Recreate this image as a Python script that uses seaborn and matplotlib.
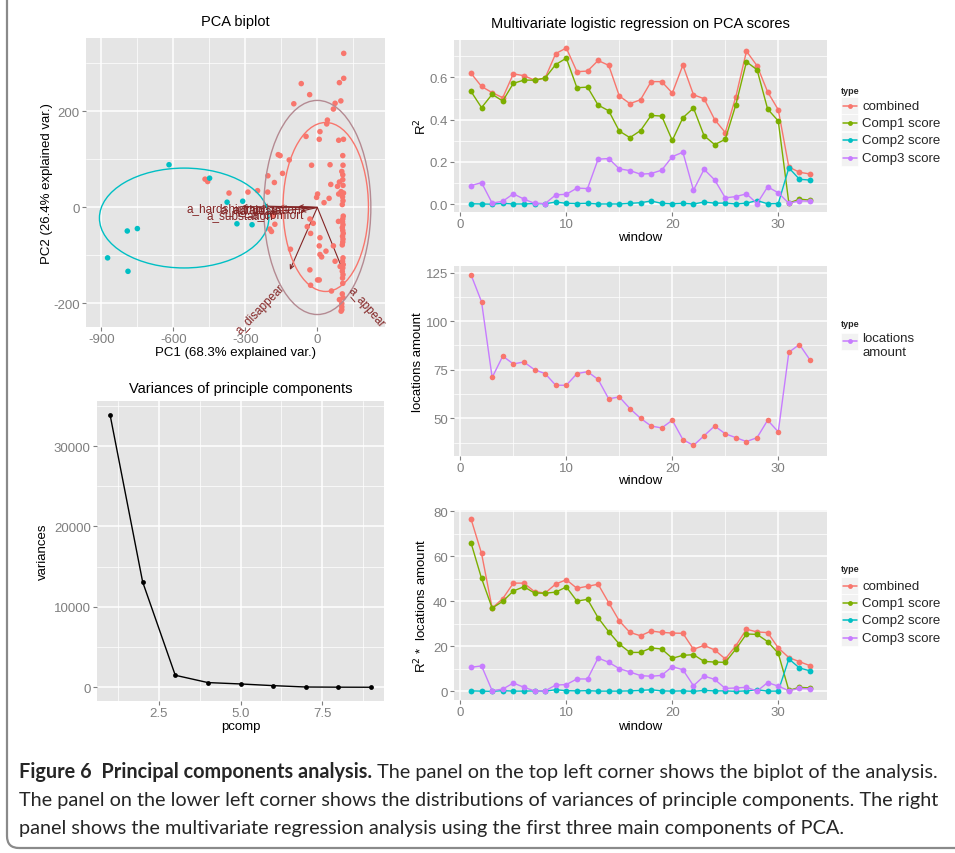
import numpy as np
import pandas as pd
import matplotlib
matplotlib.use('Agg')
import matplotlib.pyplot as plt
import seaborn as sns
from matplotlib.patches import Ellipse, Rectangle, FancyBboxPatch
from matplotlib.lines import Line2D
from matplotlib.transforms import IdentityTransform
from matplotlib import font_manager

# ---------------- data ----------------
windows = list(range(1, 34))
types = ['combined', 'Comp1 score', 'Comp2 score', 'Comp3 score']
combined_r2 = [0.620, 0.557, 0.528, 0.504, 0.617, 0.608, 0.587, 0.597, 0.713, 0.739, 0.627, 0.630, 0.680, 0.657,
               0.512, 0.476, 0.494, 0.580, 0.580, 0.526, 0.658, 0.518, 0.499, 0.400, 0.339, 0.509, 0.724, 0.655,
               0.531, 0.447, 0.176, 0.151, 0.143]
comp1_r2 = [0.534, 0.457, 0.520, 0.488, 0.572, 0.587, 0.587, 0.597, 0.661, 0.691, 0.551, 0.554, 0.469, 0.442,
            0.346, 0.315, 0.348, 0.420, 0.417, 0.302, 0.409, 0.455, 0.324, 0.282, 0.307, 0.471, 0.674, 0.636,
            0.450, 0.394, 0.005, 0.024, 0.019]
comp2_r2 = [0.002, 0.001, 0.000, 0.004, 0.001, 0.001, 0.003, 0.002, 0.010, 0.004, 0.003, 0.004, 0.001, 0.001,
            0.001, 0.004, 0.007, 0.015, 0.004, 0.002, 0.004, 0.001, 0.010, 0.005, 0.005, 0.001, 0.005, 0.017,
            0.002, 0.003, 0.172, 0.118, 0.114]
comp3_r2 = [0.088, 0.102, 0.005, 0.014, 0.049, 0.024, 0.004, 0.003, 0.044, 0.047, 0.076, 0.074, 0.213, 0.216,
            0.167, 0.159, 0.142, 0.145, 0.161, 0.225, 0.246, 0.066, 0.165, 0.115, 0.030, 0.036, 0.049, 0.003,
            0.082, 0.054, 0.004, 0.016, 0.014]
locations = [124, 110, 71, 82, 78, 79, 75, 73, 67, 67, 73, 74, 70, 60, 61, 55, 50, 46, 45, 49, 39, 36, 41, 46,
             42, 40, 38, 40, 49, 43, 84, 88, 80]
combined_w = [76.7, 61.3, 37.0, 41.2, 48.1, 48.1, 44.3, 43.7, 47.7, 49.6, 45.8, 46.7, 47.6, 39.4, 31.3, 26.2,
              24.7, 26.8, 26.2, 25.9, 25.8, 18.7, 20.4, 18.4, 14.4, 20.3, 27.6, 26.4, 26.1, 19.3, 15.0, 13.2, 11.4]
comp1_w = [66.1, 50.2, 37.0, 40.0, 44.6, 46.5, 43.7, 43.6, 44.1, 46.4, 40.1, 40.9, 32.7, 26.5, 21.0, 17.3,
           17.3, 19.3, 18.8, 14.7, 16.0, 16.3, 13.3, 13.0, 12.9, 18.8, 25.5, 25.3, 22.1, 16.9, 0.4, 1.8, 1.5]
comp2_w = [0.2, 0.1, 0.0, 0.3, 0.1, 0.1, 0.2, 0.1, 0.7, 0.3, 0.2, 0.3, 0.1, 0.1, 0.1, 0.2, 0.4, 0.7, 0.2, 0.1,
           0.2, 0.0, 0.4, 0.2, 0.2, 0.0, 0.2, 0.7, 0.1, 0.1, 14.4, 10.4, 9.1]
comp3_w = [10.7, 11.3, 0.3, 1.0, 3.7, 1.8, 0.2, 0.2, 2.8, 3.0, 5.5, 5.5, 14.8, 12.9, 10.1, 8.6, 7.0, 6.7, 7.1,
           11.0, 9.6, 2.5, 6.8, 5.3, 1.3, 1.5, 1.8, 0.1, 3.9, 2.3, 0.3, 1.3, 1.1]
pcomp = [1, 2, 3, 4, 5, 6, 7, 8, 9]
variances = [33900, 13100, 1500, 590, 420, 210, 40, 20, 10]

# PCA biplot scores
red_x = [110, 110, 92, -67, -32, 98, 74, -98, 67, 42, 39, 11, -47, 8, 89, 109, -163, -155, 106, -117, -24, 53,
         107, 102, 106, -206, -145, -179, 56, 92, 106, 84, 107,
         -468, -457, -368, -289, -249, -207,
         99, 109, 89, 1, -3, 49, 28, -184, -177, -198, -191, -31, 88, -42, -17, -28, 11, 67, 36, 11, 18, 8, -112,
         74, 95, -31, 1, 8, -28, 59, 92, 102, 102, 102, 99,
         105, 107, 104, 108, 106, 105, 107, 104, 106, 108, 105, 107, 106, 104, 107, 105, 108, 106, 104, 107, 105,
         106, 104, 107]
red_y = [321, 269, 260, 258, 235, 222, 217, 216, 205, 182, 174, 158, 148, 142, 140, 142, 110, 108, 108, 99, 88,
         89, 88, 75, 68, 66, 71, 52, 48, 53, 58, 44, 46,
         59, 54, 30, 32, 35, 32,
         33, 30, 28, 28, 21, 19, 10, -17, -35, -45, -50, -24, -29, -40, -33, -54, -63, -80, -91, -98, -103, -80,
         -87, -112, -123, -130, -151, -151, -162, -174, -192, -200, -207, -213, -216,
         22, 14, 6, -18, -24, -30, -36, -42, -48, -54, -60, -66, -72, -78, -105, -112, -119, -126, -133, -140,
         -147, -158, -180, -188]
teal_x = [-618, -449, -792, -750, -874, -789, -376, -311, -335, -272]
teal_y = [89, 61, -49, -44, -105, -133, 11, 13, -34, -36]

# group ellipses / correlation circle: centre x, centre y, half width, half height
ell_names = ['teal', 'red', 'circle']
ell_cx = [-555, 35, 0]
ell_cy = [-22, 1, 0]
ell_rx = [353, 178, 223]
ell_ry = [104, 176, 223]

# loadings (arrow ends) and their names
load_x = [-114, 109, -315, -230, -160, -80, -195, -70]
load_y = [-130, -134, 2, 3, 1, 2, -9, -8]
load_names = ['a_disappear', 'a_appear', 'a_hardship', 'a_raid', 'a_death', 'a_authorization',
              'a_substation', 'a_comfort']

# ---------------- style ----------------
W, H = 955, 854
sns.set_theme(style='white')
plt.rcParams['font.family'] = ['Liberation Sans', 'DejaVu Sans']
plt.rcParams['axes.unicode_minus'] = False

BG = '#E5E5E5'
TICKC = '#7F7F7F'
PAL = ['#F8766D', '#7CAE00', '#00BFC4', '#C77CFF']
DARKRED = '#832424'

fig = plt.figure(figsize=(9.55, 8.54), dpi=100)


def add_ax(l, t, r, b):
    return fig.add_axes([l / W, 1 - b / H, (r - l) / W, (b - t) / H])


def style(ax, xmaj, ymaj, xmin, ymin, xlim, ylim, xlab=None, ylab=None):
    ax.set_facecolor(BG)
    for s in ax.spines.values():
        s.set_visible(False)
    ax.set_xticks(xmaj)
    ax.set_yticks(ymaj)
    if xlab is not None:
        ax.set_xticklabels(xlab)
    if ylab is not None:
        ax.set_yticklabels(ylab)
    ax.set_xticks(xmin, minor=True)
    ax.set_yticks(ymin, minor=True)
    ax.set_xlim(xlim)
    ax.set_ylim(ylim)
    ax.grid(True, which='major', color='white', lw=1.1)
    ax.grid(True, which='minor', color='white', lw=0.5)
    ax.set_axisbelow(True)
    ax.tick_params(which='major', length=3, width=0.8, color=TICKC, labelcolor=TICKC,
                   labelsize=9.5, pad=1.5, left=True, bottom=True)
    ax.tick_params(which='minor', length=0)


def labels(ax, box, xl, yl, xl_y, yl_x, title=None, title_y=None):
    l, t, r, b = box
    ax.set_xlabel(xl, fontsize=9.5, color='black')
    ax.set_ylabel(yl, fontsize=9.5, color='black')
    ax.xaxis.label.set_va('center')
    ax.yaxis.label.set_va('center')
    ax.xaxis.set_label_coords(0.5, (b - xl_y) / (b - t))
    ax.yaxis.set_label_coords((yl_x - l) / (r - l), 0.5)
    if title:
        ax.set_title(title, fontsize=10.5, color='black', y=(b - title_y) / (b - t), va='center')


# ---------------- PCA biplot ----------------
box_bp = (86, 39, 385, 328)
ax1 = add_ax(*box_bp)
for i in range(len(load_x)):
    ax1.annotate('', xy=(load_x[i], load_y[i]), xytext=(0, 0),
                 arrowprops=dict(arrowstyle='->', color=DARKRED, lw=0.8, mutation_scale=7,
                                 shrinkA=0, shrinkB=0), zorder=2)
pts = pd.DataFrame({'PC1': red_x + teal_x, 'PC2': red_y + teal_y,
                    'group': ['a'] * len(red_x) + ['b'] * len(teal_x)})
sns.scatterplot(data=pts, x='PC1', y='PC2', hue='group', palette={'a': '#F8766D', 'b': '#00BFC4'},
                s=16, linewidth=0, legend=False, ax=ax1, zorder=3)
ell_colors = ['#00BFC4', '#F8766D', '#B48A92']
for i in range(len(ell_names)):
    ax1.add_patch(Ellipse((ell_cx[i], ell_cy[i]), 2 * ell_rx[i], 2 * ell_ry[i], fill=False,
                          ec=ell_colors[i], lw=1.0, zorder=4))
for i in range(len(load_x)):
    x, y = load_x[i], load_y[i]
    if i == 0:
        ax1.text(x * 1.25, y * 1.25, load_names[i], rotation=46, rotation_mode='anchor', ha='right',
                 va='center', color=DARKRED, fontsize=8.5, zorder=5)
    elif i == 1:
        ax1.text(x * 1.25, y * 1.25, load_names[i], rotation=-49, rotation_mode='anchor', ha='left',
                 va='center', color=DARKRED, fontsize=8.5, zorder=5)
    else:
        ax1.text(x + 12, y - 6, load_names[i], ha='right', va='center', color=DARKRED, fontsize=8.5, zorder=5)
style(ax1, [-900, -600, -300, 0], [-200, 0, 200], [-750, -450, -150, 150], [-300, -100, 100, 300],
      (-964, 282), (-249, 353))
labels(ax1, box_bp, 'PC1 (68.3% explained var.)', 'PC2 (26.4% explained var.)', 353, 47,
       'PCA biplot', 30)

# ---------------- variances ----------------
box_v = (97, 402, 384, 702)
ax2 = add_ax(*box_v)
vdf = pd.DataFrame({'pcomp': pcomp, 'variances': variances})
sns.lineplot(data=vdf, x='pcomp', y='variances', color='black', lw=1.0, ax=ax2)
sns.scatterplot(data=vdf, x='pcomp', y='variances', color='black', s=12, linewidth=0, ax=ax2, zorder=3)
style(ax2, [2.5, 5.0, 7.5], [0, 10000, 20000, 30000], [1.25, 3.75, 6.25, 8.75],
      [5000, 15000, 25000, 35000], (0.6, 9.4), (-1700, 35600),
      ['2.5', '5.0', '7.5'], ['0', '10000', '20000', '30000'])
labels(ax2, box_v, 'pcomp', 'variances', 727, 43, 'Variances of principle components', 397)

# ---------------- right panels ----------------
xmaj = [0, 10, 20, 30]
xmin = [5, 15, 25]
xlim = (-0.6, 34.6)


def long_df(series, val):
    rows = []
    for t, s in zip(types, series):
        for w, v in zip(windows, s):
            rows.append((w, v, t))
    return pd.DataFrame(rows, columns=['window', val, 'type'])


def legend(x, ytitle, entries, ys, lcolors, pcolors, text_ys=None, text_va='center'):
    fig.text(x / W, 1 - ytitle / H, 'type', fontsize=6.5, fontweight='bold', va='center', ha='left')
    if text_ys is None:
        text_ys = ys
    for lab, y, ty, cl, cp in zip(entries, ys, text_ys, lcolors, pcolors):
        fig.add_artist(Rectangle((x / W, 1 - (y + 8.5) / H), 17 / W, 17 / H, fc='#F2F2F2', ec='white', lw=0.5))
        fig.add_artist(Line2D([(x + 1.5) / W, (x + 15.5) / W], [1 - y / H] * 2, color=cl, lw=1.1))
        fig.add_artist(Line2D([(x + 8.5) / W], [1 - y / H], marker='o', ms=3.5, color=cp, mec='none', lw=0))
        fig.text((x + 21) / W, 1 - ty / H, lab, fontsize=9.5, va=text_va, ha='left', linespacing=1.25)


# top: R^2
box_t = (454, 41, 827, 213)
ax3 = add_ax(*box_t)
d3 = long_df([combined_r2, comp1_r2, comp2_r2, comp3_r2], 'R2')
sns.lineplot(data=d3, x='window', y='R2', hue='type', hue_order=types, palette=PAL, marker='o',
             markersize=4.2, markeredgewidth=0, lw=1.0, legend=False, ax=ax3)
style(ax3, xmaj, [0.0, 0.2, 0.4, 0.6], xmin, [0.1, 0.3, 0.5, 0.7], xlim, (-0.037, 0.777),
      None, ['0.0', '0.2', '0.4', '0.6'])
labels(ax3, box_t, 'window', 'R$^2$', 238, 421, 'Multivariate logistic regression on PCA scores', 32)
legend(841, 91.7, types, [106.7, 123.7, 141.3, 158.7], PAL, PAL)

# middle: locations amount
box_m = (454, 267, 827, 457)
ax4 = add_ax(*box_m)
d4 = pd.DataFrame({'window': windows, 'locations amount': locations})
sns.lineplot(data=d4, x='window', y='locations amount', color='#C77CFF', lw=1.0, ax=ax4)
sns.scatterplot(data=d4, x='window', y='locations amount', color='#F8766D', s=16, linewidth=0, ax=ax4,
                zorder=3)
style(ax4, xmaj, [50, 75, 100, 125], xmin, [37.5, 62.5, 87.5, 112.5], xlim, (30.55, 128.45))
labels(ax4, box_m, 'window', 'locations amount', 481, 418)
legend(841, 325, ['locations\namount'], [342], ['#C77CFF'], ['#C77CFF'], text_ys=[333], text_va='top')

# bottom: R^2 * locations
box_b = (454, 511, 827, 701)
ax5 = add_ax(*box_b)
d5 = long_df([combined_w, comp1_w, comp2_w, comp3_w], 'weighted')
sns.lineplot(data=d5, x='window', y='weighted', hue='type', hue_order=types, palette=PAL, marker='o',
             markersize=4.2, markeredgewidth=0, lw=1.0, legend=False, ax=ax5)
style(ax5, xmaj, [0, 20, 40, 60, 80], xmin, [10, 30, 50, 70], xlim, (-3.85, 80.6))
labels(ax5, box_b, 'window', 'R$^2$ *  locations amount', 727, 421)
legend(841, 570, types, [586.7, 603.7, 621.3, 638.7], PAL, PAL)

# ---------------- frame & caption ----------------
fig.add_artist(FancyBboxPatch((7, H - 849), 1200, 1000, boxstyle='round,pad=0,rounding_size=12',
                              transform=IdentityTransform(), fill=False, ec='#8A8A8A', lw=1.6,
                              clip_on=False))

names = {f.name for f in font_manager.fontManager.ttflist}
cap_font = 'Lato' if 'Lato' in names else 'Open Sans'
bold_txt = 'Figure 6  Principal components analysis.'
rest1 = ' The panel on the top left corner shows the biplot of the analysis.'
line2 = 'The panel on the lower left corner shows the distributions of variances of principle components. The right'
line3 = 'panel shows the multivariate regression analysis using the first three main components of PCA.'

renderer = fig.canvas.get_renderer()
size = 13.0
tb = fig.text(19 / W, 1 - 778 / H, bold_txt, fontsize=size, fontweight='bold', family=cap_font,
              va='baseline', ha='left')
tr = fig.text(tb.get_window_extent(renderer).x1 / W, 1 - 778 / H, rest1, fontsize=size, family=cap_font,
              va='baseline', ha='left')
total = tr.get_window_extent(renderer).x1 - 19
size = size * 921 / total
tb.set_fontsize(size)
tr.set_fontsize(size)
tr.set_x(tb.get_window_extent(renderer).x1 / W)
fig.text(19 / W, 1 - 806 / H, line2, fontsize=size, family=cap_font, va='baseline', ha='left')
fig.text(19 / W, 1 - 834 / H, line3, fontsize=size, family=cap_font, va='baseline', ha='left')

fig.savefig('out.png', dpi=100)
